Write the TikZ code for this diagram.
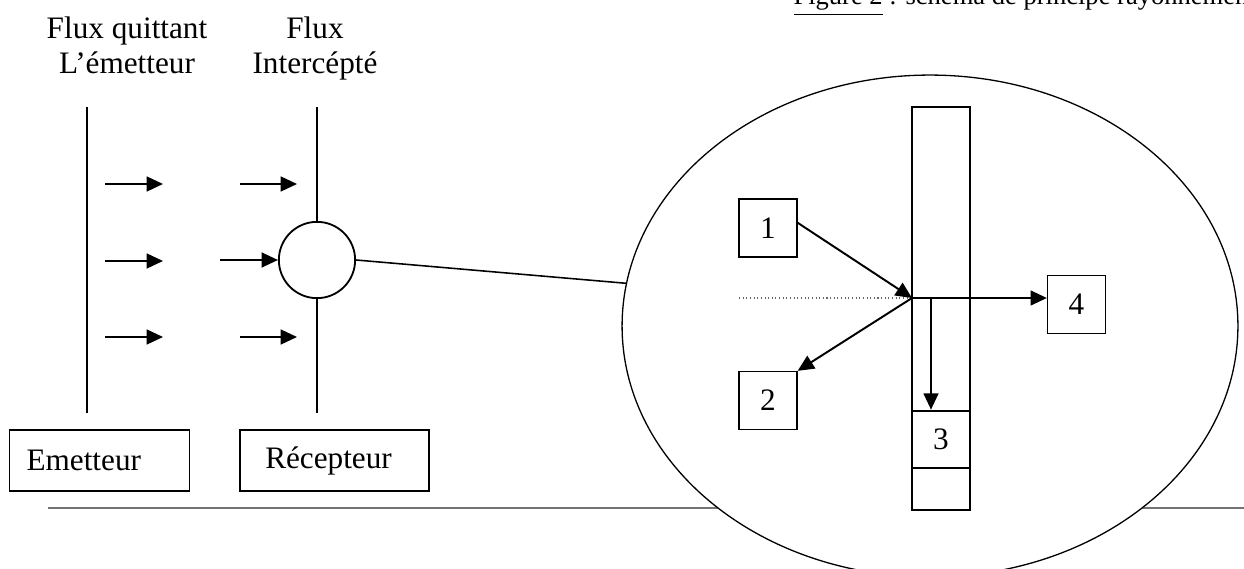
\documentclass[tikz,border=0pt]{standalone}
\usepackage{fontspec}
\setmainfont{Liberation Serif}
\usetikzlibrary{shapes.geometric,arrows.meta}

\begin{document}
\begin{tikzpicture}[
    x=0.0135cm, y=-0.0135cm,
    every node/.style={font=\fontsize{12}{13.8}\selectfont},
    flow/.style={line width=0.75pt, -{Triangle[length=2.2mm, width=2mm]}},
    surface/.style={line width=0.65pt},
    numbox/.style={draw, line width=0.5pt, minimum width=0.783cm, minimum height=0.783cm, inner sep=0pt},
    labelbox/.style={draw, line width=0.6pt, minimum height=0.82cm, align=left, inner ysep=0pt},
    ]
    \useasboundingbox (0,0) rectangle (1244,569);

    \node [anchor=base west, inner sep=0pt, font=\fontsize{10.2}{12}\selectfont] (title) at (793,5) {\underline{Figure 2} : schéma de principe rayonnement};

    \node [align=center, anchor=base, inner sep=0pt] (fluxE) at (127,74) {Flux quittant\\L’émetteur};
    \node [align=center, anchor=base, inner sep=0pt] (fluxR) at (315,74) {Flux\\Intercépté};

    \coordinate (etop) at (87,107);
    \coordinate (ebot) at (87,413);
    \draw [surface] (etop) -- (ebot);

    \node [circle, draw, line width=0.7pt, minimum size=1.03cm, inner sep=0pt] (circ) at (317,260) {};
    \coordinate (rtop) at (317,107);
    \coordinate (rbot) at (317,413);
    \draw [surface] (rtop) -- (circ.north);
    \draw [surface] (circ.south) -- (rbot);

    \draw [flow] (105,184) -- (163,184);
    \draw [flow] (105,261) -- (163,261);
    \draw [flow] (105,337) -- (163,337);
    \draw [flow] (240,184) -- (297,184);
    \coordinate (fin) at (220,260);
    \draw [flow] (fin) -- (circ.west);
    \draw [flow] (240,337) -- (297,337);

    \node [labelbox, text width=1.97cm, inner xsep=0.23cm] (emit) at (99.5,460.5) {Emetteur};
    \node [labelbox, text width=1.87cm, inner xsep=0.34cm] (recv) at (334.5,460.5) {Récepteur};

    \coordinate (rulestart) at (48,508);
    \coordinate (ruleend) at (1244,508);
    \draw [black!55, line width=0.4pt] (rulestart) -- (ruleend);

    \node [ellipse, draw, fill=white, line width=0.5pt, minimum width=8.316cm, minimum height=6.777cm, inner sep=0pt] (zoom) at (930,326) {};
    \draw [line width=0.6pt] (circ.east) -- (zoom.172);

    \node [draw, line width=0.6pt, minimum width=0.783cm, minimum height=5.44cm, inner sep=0pt] (wall) at (941,308.5) {};
    \node [numbox, line width=1pt, minimum height=0.77cm] (b3) at (941,439.5) {3};
    \node [numbox] (b1) at (768,228) {1};
    \node [numbox] (b2) at (768,400.5) {2};
    \node [numbox] (b4) at (1076.5,304.5) {4};

    \coordinate (hit) at (912,298);
    \coordinate (drop) at (931,298);
    \coordinate (dotstart) at (739,298);
    \draw [densely dotted, black!60, line width=0.4pt] (dotstart) -- (hit);
    \draw [flow] (b1.10) -- (hit);
    \draw [flow] (hit) -- (b2.north east);
    \draw [flow] (hit) -- (hit -| b4.west);
    \draw [flow] (drop) -- (drop |- b3.north);
\end{tikzpicture}
\end{document}
